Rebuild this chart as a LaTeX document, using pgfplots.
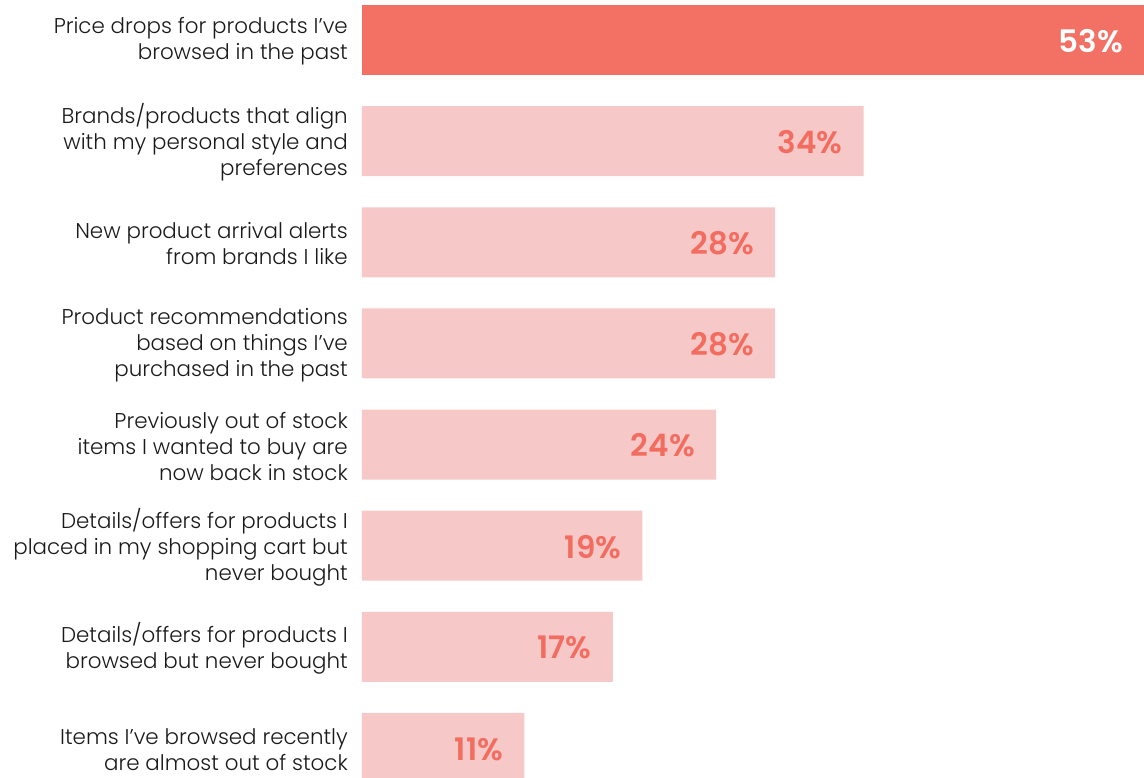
\documentclass[border=0pt]{standalone}
\usepackage{fontspec}
\setmainfont{Poppins}[UprightFont=* Light, BoldFont=* SemiBold]
\usepackage{pgfplots}
\pgfplotsset{compat=1.18}

\definecolor{topbar}{HTML}{F37064}
\definecolor{restbar}{HTML}{F7C8C8}
\definecolor{valtxt}{HTML}{F26D60}
\definecolor{lbltxt}{HTML}{1A1A1A}

\begin{document}
\begin{tikzpicture}
  \begin{axis}[
      xbar,
      bar shift=0pt,
      bar width=70pt,
      scale only axis,
      width=782pt, height=777pt,
      xmin=0, xmax=53,
      ymin=-0.396, ymax=7.287,
      y dir=reverse,
      axis line style={draw=none},
      major tick length=0pt,
      xtick=\empty,
      ytick={0,...,7},
      yticklabels={
        {Price drops for products I’ve\\browsed in the past},
        {Brands/products that align\\with my personal style and\\preferences},
        {New product arrival alerts\\from brands I like},
        {Product recommendations\\based on things I’ve\\purchased in the past},
        {Previously out of stock\\items I wanted to buy are\\now back in stock},
        {Details/offers for products I\\placed in my shopping cart but\\never bought},
        {Details/offers for products I\\browsed but never bought},
        {Items I’ve browsed recently\\are almost out of stock}},
      yticklabel style={align=right, inner sep=0pt, xshift=-14pt, yshift=-1.5pt,
        text=lbltxt, font=\fontsize{21.4}{26}\selectfont},
      point meta=x,
      /pgf/number format/assume math mode=true,
      nodes near coords={\pgfmathprintnumber{\pgfplotspointmeta}\%},
      nodes near coords style={anchor=east, inner sep=0pt, xshift=-21pt, yshift=-1pt,
        font=\fontsize{31}{31}\selectfont\bfseries},
    ]
    \addplot[draw=none, fill=topbar, nodes near coords style={text=white}]
      coordinates {(53,0)};
    \addplot[draw=none, fill=restbar, nodes near coords style={text=valtxt}]
      coordinates {(34,1) (28,2) (28,3) (24,4) (19,5) (17,6) (11,7)};
    \coordinate (A) at (rel axis cs:0,0);
    \coordinate (B) at (rel axis cs:1,1);
  \end{axis}
  \pgfresetboundingbox
  \path[use as bounding box] (A) ++(-362pt,0) rectangle (B);
\end{tikzpicture}
\end{document}
